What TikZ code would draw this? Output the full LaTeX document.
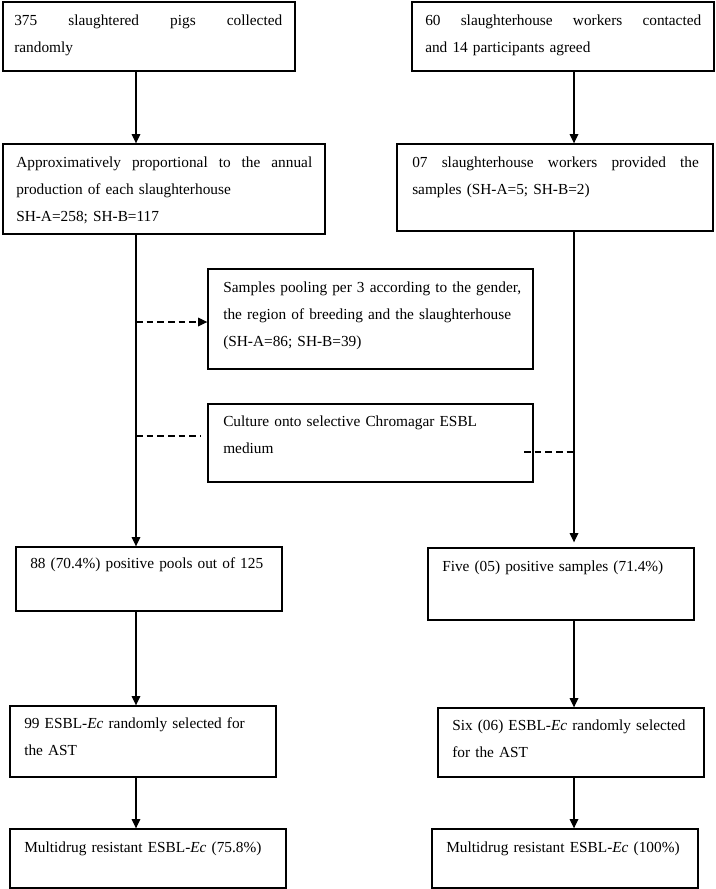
\documentclass[tikz,border=0pt]{standalone}
\usepackage{fontspec}
\setmainfont{Liberation Serif}
\usetikzlibrary{arrows.meta,fit}
\begin{document}
\begin{tikzpicture}[x=0.75pt,y=-0.75pt,
  box/.style={draw, line width=1pt, inner sep=0pt},
  txt/.style={anchor=base west, inner sep=0pt, align=left, text width=250pt, font=\fontsize{11.5}{20.5}\selectfont},
  arr/.style={line width=0.9pt, -{Triangle[width=6.5pt,length=7pt]}},
  dsh/.style={line width=0.9pt, dash pattern=on 5pt off 3pt}]
\useasboundingbox (0,0) rectangle (715,889);
% boxes
\node[box, fit={(3,2) (295,71)}] (b1) {};
\node[box, fit={(412,2) (714,71)}] (b2) {};
\node[box, fit={(3,144) (325,234)}] (b3) {};
\node[box, fit={(397,144) (713,231)}] (b4) {};
\node[box, fit={(208,269) (533,369)}] (pool) {};
\node[box, fit={(208,404) (533,482)}] (cul) {};
\node[box, fit={(16,547) (282,611)}] (b5) {};
\node[box, fit={(428,548) (694,620)}] (b6) {};
\node[box, fit={(10,706) (276,777)}] (b7) {};
\node[box, fit={(438,708) (704,777)}] (b8) {};
\node[box, fit={(10,829) (286,888)}] (b9) {};
\node[box, fit={(432,829) (698,888)}] (b10) {};
% texts
\node[txt] (t1) at (14,25) {\hbox to 201pt{375\hfill slaughtered\hfill pigs\hfill collected}\\randomly};
\node[txt] (t2) at (425,25) {\hbox to 207pt{60\hfill slaughterhouse\hfill workers\hfill contacted}\\and 14 participants agreed};
\node[txt] (t3) at (16,167) {\hbox to 222pt{Approximatively\hfill proportional\hfill to\hfill the\hfill annual}\\production of each slaughterhouse\\SH-A=258; SH-B=117};
\node[txt] (t4) at (412,167) {\hbox to 215pt{07\hfill slaughterhouse\hfill workers\hfill provided\hfill the}\\samples (SH-A=5; SH-B=2)};
\node[txt] (tp) at (223,292) {Samples pooling per 3 according to the gender,\\the region of breeding and the slaughterhouse\\(SH-A=86; SH-B=39)};
\node[txt] (tc) at (223,426) {Culture onto selective Chromagar ESBL\\medium};
\node[txt] (t5) at (30,568) {88 (70.4\%) positive pools out of 125};
\node[txt] (t6) at (442,571) {Five (05) positive samples (71.4\%)};
\node[txt] (t7) at (24,728) {99 ESBL-\textit{Ec} randomly selected for\\the AST};
\node[txt] (t8) at (452,730) {Six (06) ESBL-\textit{Ec} randomly selected\\for the AST};
\node[txt] (t9) at (24,852) {Multidrug resistant ESBL-\textit{Ec} (75.8\%)};
\node[txt] (t10) at (446,852) {Multidrug resistant ESBL-\textit{Ec} (100\%)};
% connectors
\coordinate (L) at (136,0);
\coordinate (R) at (574,0);
\draw[arr] (L |- b1.south) -- (L |- b3.north);
\draw[arr] (R |- b2.south) -- (R |- b4.north);
\draw[arr] (L |- b3.south) -- (L |- b5.north);
\draw[arr, shorten >=3.75pt] (R |- b4.south) -- (R |- b6.north);
\draw[arr] (L |- b5.south) -- (L |- b7.north);
\draw[arr] (R |- b6.south) -- (R |- b8.north);
\draw[arr] (L |- b7.south) -- (L |- b9.north);
\draw[arr] (R |- b8.south) -- (R |- b10.north);
\coordinate (pa) at (136,322);
\draw[dsh, -{Triangle[width=6.5pt,length=7pt]}] (pa) -- (pool.west |- pa);
\coordinate (ca) at (136,436);
\draw[dsh, shorten >=4.5pt] (ca) -- (cul.west |- ca);
\coordinate (cb) at (574,452);
\coordinate (cc) at (524,452);
\draw[dsh] (cc) -- (cb);
\end{tikzpicture}
\end{document}
